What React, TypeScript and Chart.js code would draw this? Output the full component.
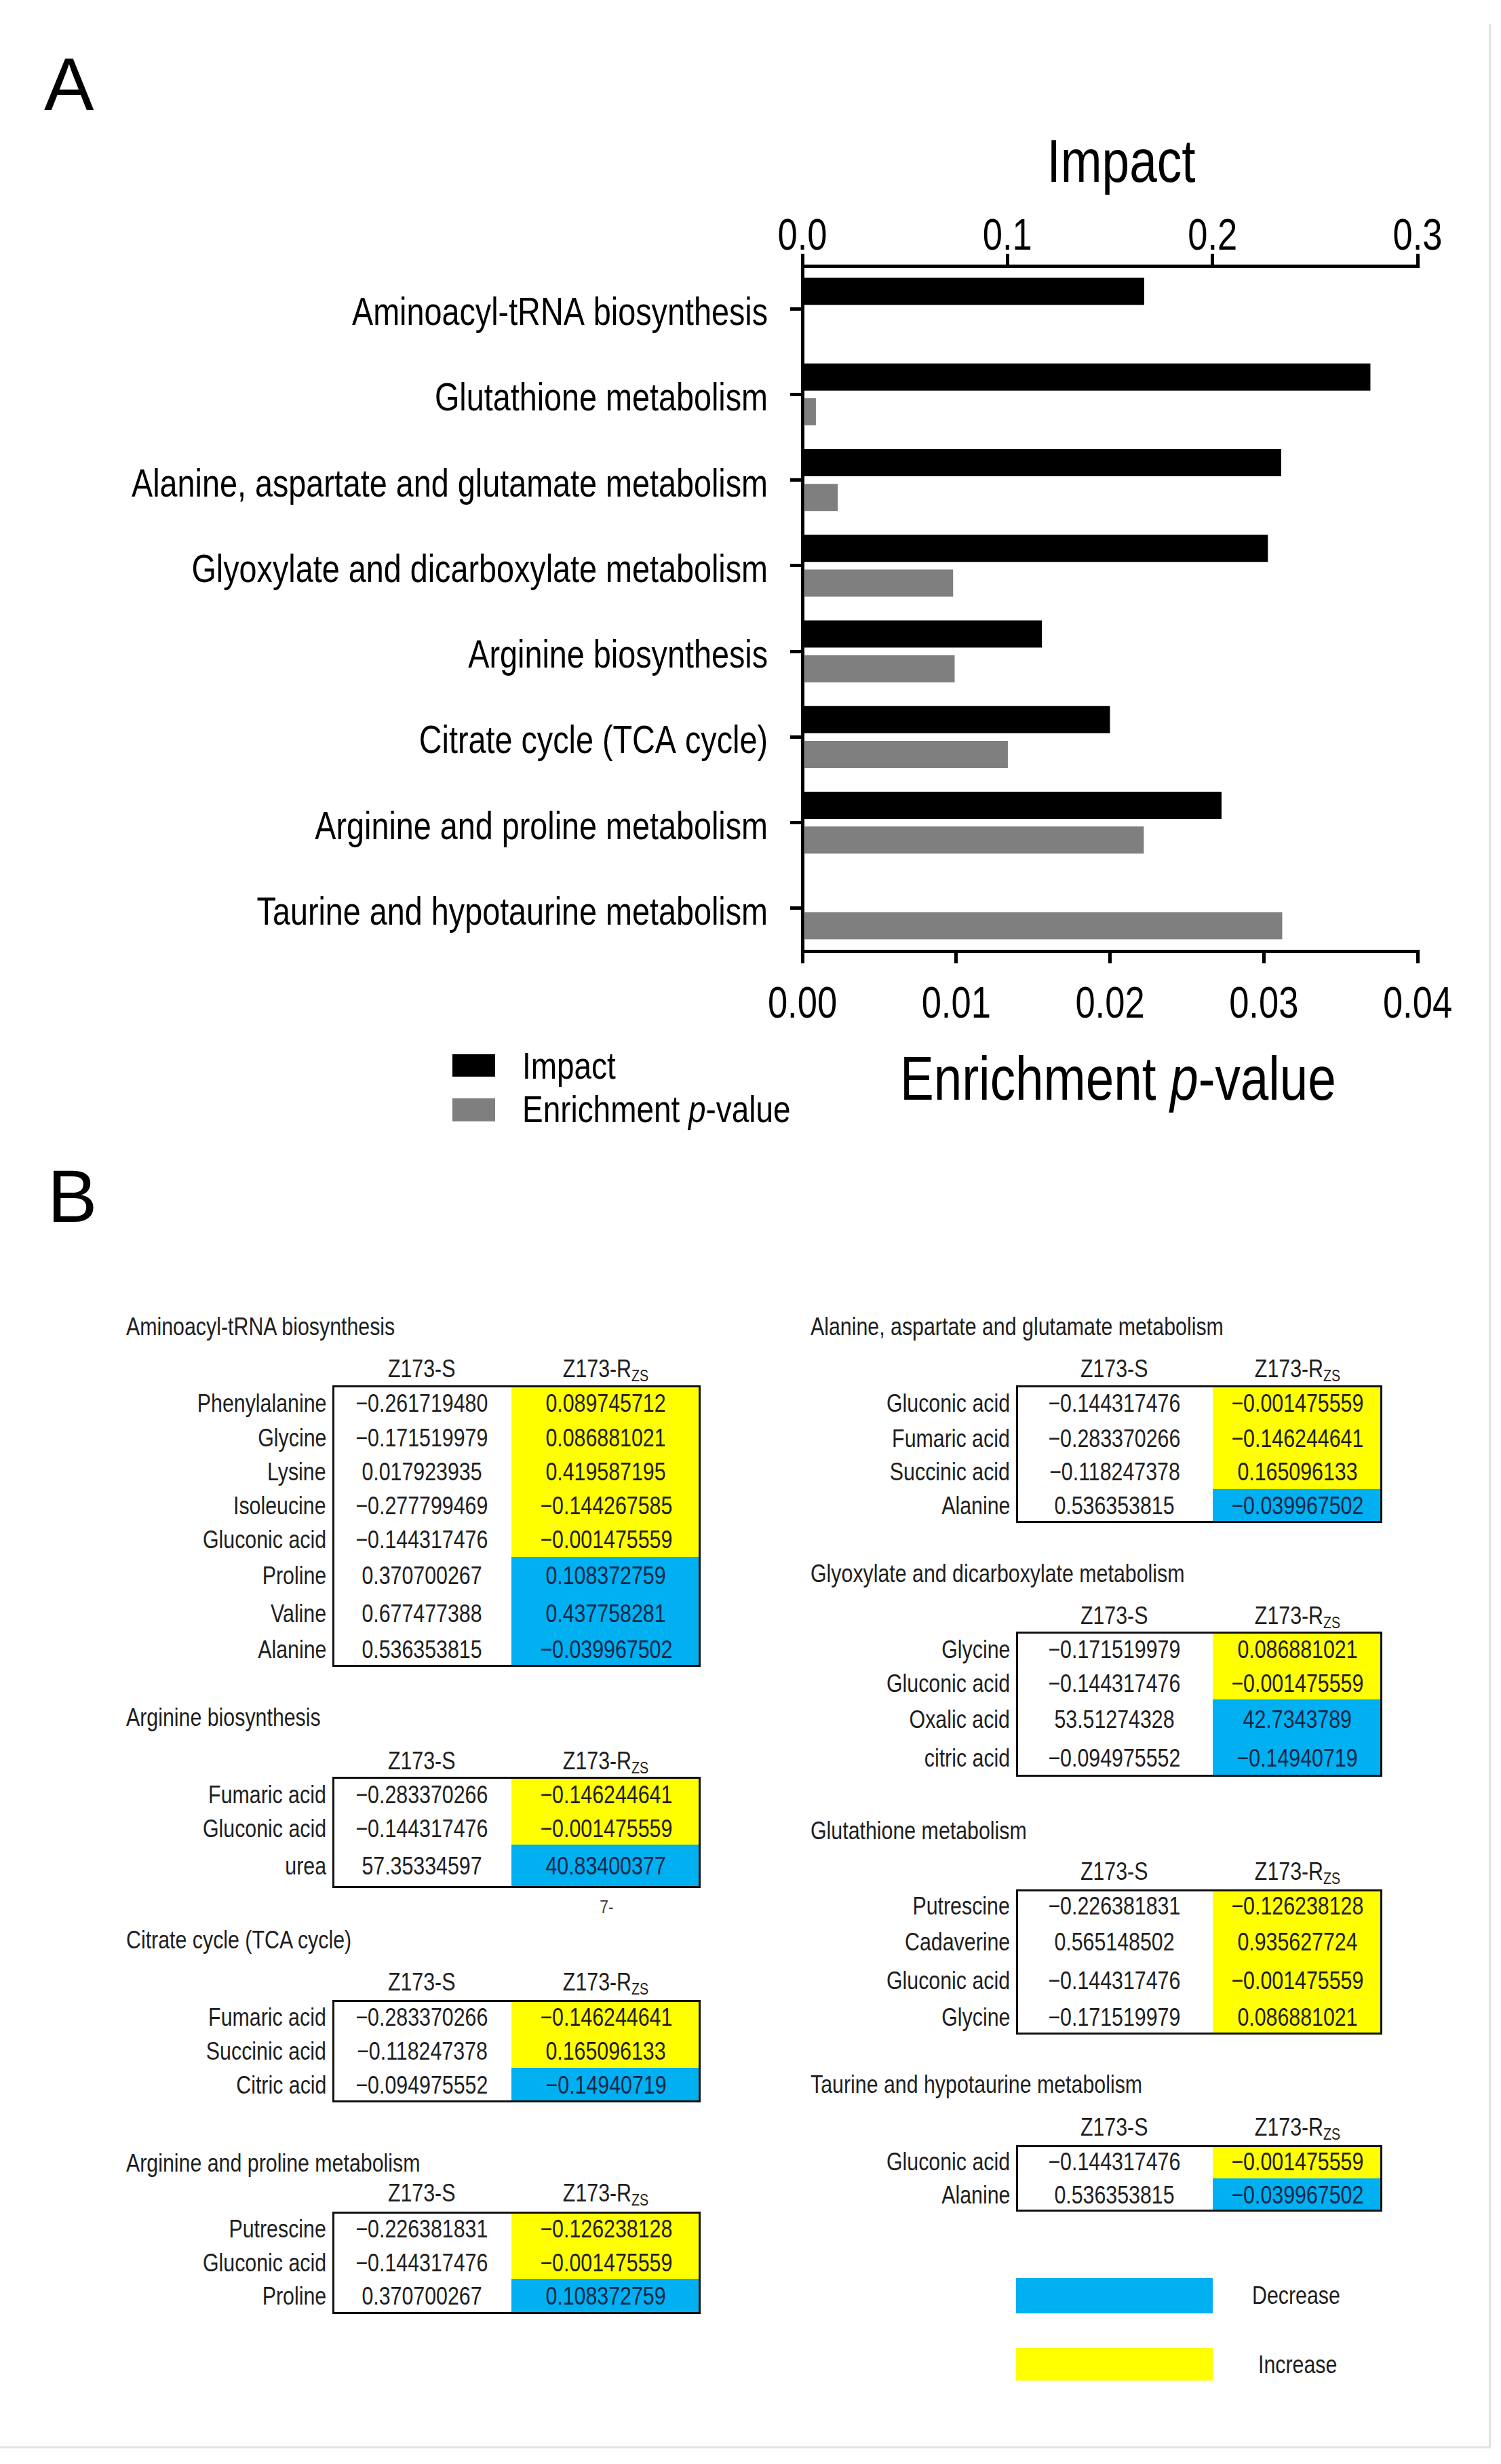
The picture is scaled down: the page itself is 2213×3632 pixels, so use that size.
import React, { useEffect, useRef } from 'react';
import { Chart, registerables } from 'chart.js';

Chart.register(...registerables);

// ---------------- Data: panel A ----------------
const pathways = [
  'Aminoacyl-tRNA biosynthesis',
  'Glutathione metabolism',
  'Alanine, aspartate and glutamate metabolism',
  'Glyoxylate and dicarboxylate metabolism',
  'Arginine biosynthesis',
  'Citrate cycle (TCA cycle)',
  'Arginine and proline metabolism',
  'Taurine and hypotaurine metabolism',
];
const impactValues = [0.1667, 0.277, 0.2335, 0.227, 0.1168, 0.15, 0.2044, 0];
const enrichmentPValues = [0, 0.00088, 0.0023, 0.0098, 0.0099, 0.01336, 0.0222, 0.0312];
const impactTickStep = 0.1;
const impactMax = 0.3;
const pValueTickStep = 0.01;
const pValueMax = 0.04;
const impactTitle = 'Impact';
const pValueTitleParts = ['Enrichment ', 'p', '-value'];
const seriesNames = ['Impact', 'Enrichment p-value'];

// ---------------- Data: panel B ----------------
const sampleColumns = ['Z173-S', 'Z173-R'];
const sampleSubscript = 'ZS';
const trendNames = ['Decrease', 'Increase'];

const aminoacylTitle = 'Aminoacyl-tRNA biosynthesis';
const aminoacylCompounds = ['Phenylalanine', 'Glycine', 'Lysine', 'Isoleucine', 'Gluconic acid', 'Proline', 'Valine', 'Alanine'];
const aminoacylS = ['−0.261719480', '−0.171519979', '0.017923935', '−0.277799469', '−0.144317476', '0.370700267', '0.677477388', '0.536353815'];
const aminoacylR = ['0.089745712', '0.086881021', '0.419587195', '−0.144267585', '−0.001475559', '0.108372759', '0.437758281', '−0.039967502'];
const aminoacylTrend = ['Increase', 'Increase', 'Increase', 'Increase', 'Increase', 'Decrease', 'Decrease', 'Decrease'];

const argBioTitle = 'Arginine biosynthesis';
const argBioCompounds = ['Fumaric acid', 'Gluconic acid', 'urea'];
const argBioS = ['−0.283370266', '−0.144317476', '57.35334597'];
const argBioR = ['−0.146244641', '−0.001475559', '40.83400377'];
const argBioTrend = ['Increase', 'Increase', 'Decrease'];

const tcaTitle = 'Citrate cycle (TCA cycle)';
const tcaCompounds = ['Fumaric acid', 'Succinic acid', 'Citric acid'];
const tcaS = ['−0.283370266', '−0.118247378', '−0.094975552'];
const tcaR = ['−0.146244641', '0.165096133', '−0.14940719'];
const tcaTrend = ['Increase', 'Increase', 'Decrease'];

const argProTitle = 'Arginine and proline metabolism';
const argProCompounds = ['Putrescine', 'Gluconic acid', 'Proline'];
const argProS = ['−0.226381831', '−0.144317476', '0.370700267'];
const argProR = ['−0.126238128', '−0.001475559', '0.108372759'];
const argProTrend = ['Increase', 'Increase', 'Decrease'];

const alaTitle = 'Alanine, aspartate and glutamate metabolism';
const alaCompounds = ['Gluconic acid', 'Fumaric acid', 'Succinic acid', 'Alanine'];
const alaS = ['−0.144317476', '−0.283370266', '−0.118247378', '0.536353815'];
const alaR = ['−0.001475559', '−0.146244641', '0.165096133', '−0.039967502'];
const alaTrend = ['Increase', 'Increase', 'Increase', 'Decrease'];

const glyoxTitle = 'Glyoxylate and dicarboxylate metabolism';
const glyoxCompounds = ['Glycine', 'Gluconic acid', 'Oxalic acid', 'citric acid'];
const glyoxS = ['−0.171519979', '−0.144317476', '53.51274328', '−0.094975552'];
const glyoxR = ['0.086881021', '−0.001475559', '42.7343789', '−0.14940719'];
const glyoxTrend = ['Increase', 'Increase', 'Decrease', 'Decrease'];

const glutTitle = 'Glutathione metabolism';
const glutCompounds = ['Putrescine', 'Cadaverine', 'Gluconic acid', 'Glycine'];
const glutS = ['−0.226381831', '0.565148502', '−0.144317476', '−0.171519979'];
const glutR = ['−0.126238128', '0.935627724', '−0.001475559', '0.086881021'];
const glutTrend = ['Increase', 'Increase', 'Increase', 'Increase'];

const taurTitle = 'Taurine and hypotaurine metabolism';
const taurCompounds = ['Gluconic acid', 'Alanine'];
const taurS = ['−0.144317476', '0.536353815'];
const taurR = ['−0.001475559', '−0.039967502'];
const taurTrend = ['Increase', 'Decrease'];

const pageNote = '7-';

// ---------------- Styling / layout ----------------
const W = 2213;
const H = 3632;
const CANVAS_H = 1700;
const SANS = "'Liberation Sans', Arial, sans-serif";
const CONDENSE = 0.82; // emulate Arial Narrow with a horizontally condensed Arial-metric face
const BLACK = '#000000';
const GREY = '#7f7f7f';
const YELLOW = '#FFFF00';
const BLUE = '#00B0F0';
const trendColor: Record<string, string> = { Increase: YELLOW, Decrease: BLUE };

const LEFT_COL = { labelRight: 481, boxLeft: 490, divider: 754, boxRight: 1033, titleX: 186 };
const RIGHT_COL = { labelRight: 1489, boxLeft: 1498, divider: 1788, boxRight: 2038, titleX: 1195 };

type TableSpec = {
  title: string; compounds: string[]; s: string[]; r: string[]; trend: string[];
  col: typeof LEFT_COL; titleY: number; headerY: number; boxTop: number; rowHeights: number[];
};

const tables: TableSpec[] = [
  { title: aminoacylTitle, compounds: aminoacylCompounds, s: aminoacylS, r: aminoacylR, trend: aminoacylTrend,
    col: LEFT_COL, titleY: 1956, headerY: 2018, boxTop: 2042, rowHeights: [53, 50, 50, 50, 50, 56, 56, 50] },
  { title: argBioTitle, compounds: argBioCompounds, s: argBioS, r: argBioR, trend: argBioTrend,
    col: LEFT_COL, titleY: 2532, headerY: 2596, boxTop: 2619, rowHeights: [53, 47, 64] },
  { title: tcaTitle, compounds: tcaCompounds, s: tcaS, r: tcaR, trend: tcaTrend,
    col: LEFT_COL, titleY: 2860, headerY: 2922, boxTop: 2948, rowHeights: [52, 48, 51] },
  { title: argProTitle, compounds: argProCompounds, s: argProS, r: argProR, trend: argProTrend,
    col: LEFT_COL, titleY: 3189, headerY: 3233, boxTop: 3260, rowHeights: [52, 47, 52] },
  { title: alaTitle, compounds: alaCompounds, s: alaS, r: alaR, trend: alaTrend,
    col: RIGHT_COL, titleY: 1956, headerY: 2018, boxTop: 2042, rowHeights: [54, 49, 50, 50] },
  { title: glyoxTitle, compounds: glyoxCompounds, s: glyoxS, r: glyoxR, trend: glyoxTrend,
    col: RIGHT_COL, titleY: 2320, headerY: 2382, boxTop: 2405, rowHeights: [53, 47, 59, 55] },
  { title: glutTitle, compounds: glutCompounds, s: glutS, r: glutR, trend: glutTrend,
    col: RIGHT_COL, titleY: 2699, headerY: 2759, boxTop: 2785, rowHeights: [50, 56, 58, 50] },
  { title: taurTitle, compounds: taurCompounds, s: taurS, r: taurR, trend: taurTrend,
    col: RIGHT_COL, titleY: 3073, headerY: 3136, boxTop: 3162, rowHeights: [49, 49] },
];

const TEXT_COLOR = '#1e1e1e';
const TABLE_FONT = 37;

function Txt(props: { x: number; y: number; align?: 'left' | 'right' | 'center'; size?: number; color?: string; children: React.ReactNode }) {
  const { x, y, align = 'left', size = TABLE_FONT, color = TEXT_COLOR, children } = props;
  const base: React.CSSProperties = {
    position: 'absolute', top: y - 50, height: 100, lineHeight: '100px', fontSize: size,
    fontFamily: SANS, color, whiteSpace: 'nowrap',
  };
  const origin = align === 'right' ? 'right center' : align === 'center' ? 'center center' : 'left center';
  const inner = <span style={{ display: 'inline-block', transform: `scaleX(${CONDENSE})`, transformOrigin: origin }}>{children}</span>;
  if (align === 'right') return <div style={{ ...base, right: W - x, textAlign: 'right' }}>{inner}</div>;
  if (align === 'center') return <div style={{ ...base, left: x - 400, width: 800, textAlign: 'center' }}>{inner}</div>;
  return <div style={{ ...base, left: x }}>{inner}</div>;
}

function DataTable({ spec }: { spec: TableSpec }) {
  const { col } = spec;
  const c1 = (col.boxLeft + col.divider) / 2;
  const c2 = (col.divider + col.boxRight) / 2;
  const total = spec.rowHeights.reduce((a, b) => a + b, 0);
  let acc = spec.boxTop;
  const rows = spec.compounds.map((name, i) => {
    const top = acc;
    const h = spec.rowHeights[i];
    acc += h;
    const cy = top + h / 2;
    const isBlue = spec.trend[i] === 'Decrease';
    return (
      <React.Fragment key={i}>
        <div style={{ position: 'absolute', left: col.divider, top, width: col.boxRight - col.divider, height: h, background: trendColor[spec.trend[i]] }} />
        <Txt x={col.labelRight} y={cy} align="right">{name}</Txt>
        <Txt x={c1} y={cy} align="center">{spec.s[i]}</Txt>
        <Txt x={c2} y={cy} align="center" color={isBlue ? '#10284a' : TEXT_COLOR}>{spec.r[i]}</Txt>
      </React.Fragment>
    );
  });
  return (
    <>
      <Txt x={col.titleX} y={spec.titleY}>{spec.title}</Txt>
      <Txt x={c1} y={spec.headerY} align="center">{sampleColumns[0]}</Txt>
      <Txt x={c2} y={spec.headerY} align="center">
        {sampleColumns[1]}
        <span style={{ fontSize: 24, position: 'relative', top: 6 }}>{sampleSubscript}</span>
      </Txt>
      {rows}
      <div style={{ position: 'absolute', left: col.boxLeft, top: spec.boxTop, width: col.boxRight - col.boxLeft, height: total, border: '3px solid #111', boxSizing: 'border-box' }} />
    </>
  );
}

function drawCond(ctx: CanvasRenderingContext2D, parts: string[], x: number, y: number, align: 'left' | 'right' | 'center', size: number, italicIndex = -1) {
  ctx.save();
  ctx.translate(x, y);
  ctx.scale(CONDENSE, 1);
  ctx.textBaseline = 'alphabetic';
  ctx.textAlign = 'left';
  const fonts = parts.map((_, i) => `${i === italicIndex ? 'italic ' : ''}${size}px ${SANS}`);
  const widths = parts.map((p, i) => { ctx.font = fonts[i]; return ctx.measureText(p).width; });
  const total = widths.reduce((a, b) => a + b, 0);
  let cx = align === 'left' ? 0 : align === 'right' ? -total : -total / 2;
  parts.forEach((p, i) => {
    ctx.font = fonts[i];
    ctx.fillText(p, cx, 0);
    cx += widths[i];
  });
  ctx.restore();
}

const decorPlugin = {
  id: 'decor',
  afterDraw(chart: any) {
    const ctx = chart.ctx as CanvasRenderingContext2D;
    const { y, xImpact, xP } = chart.scales;
    ctx.save();
    ctx.fillStyle = '#000';
    // Category labels, positioned by the category scale
    y.ticks.forEach((_t: any, i: number) => {
      const py = y.getPixelForTick(i);
      drawCond(ctx, [String(chart.data.labels[i])], 1132, py + 24, 'right', 57);
    });
    // Impact ticks (top axis)
    xImpact.ticks.forEach((t: any, i: number) => {
      drawCond(ctx, [Number(t.value).toFixed(1)], xImpact.getPixelForTick(i), 368, 'center', 64);
    });
    // Enrichment ticks (bottom axis)
    xP.ticks.forEach((t: any, i: number) => {
      drawCond(ctx, [Number(t.value).toFixed(2)], xP.getPixelForTick(i), 1500, 'center', 64);
    });
    // Panel letter
    ctx.font = `110px ${SANS}`;
    ctx.textAlign = 'left';
    ctx.textBaseline = 'alphabetic';
    ctx.fillText('A', 65, 162);
    // Axis titles
    drawCond(ctx, [impactTitle], 1653, 268, 'center', 89);
    drawCond(ctx, pValueTitleParts, 1327, 1621, 'left', 91, 1);
    // Legend
    const ds = chart.data.datasets;
    ctx.fillStyle = ds[0].backgroundColor;
    ctx.fillRect(667, 1554, 63, 33);
    ctx.fillStyle = ds[1].backgroundColor;
    ctx.fillRect(667, 1619, 63, 34);
    ctx.fillStyle = '#000';
    drawCond(ctx, [seriesNames[0]], 770, 1590, 'left', 56);
    const parts = seriesNames[1].split('p-');
    drawCond(ctx, [parts[0], 'p', '-' + parts[1]], 770, 1654, 'left', 56, 1);
    ctx.restore();
  },
};

function ChartA() {
  const ref = useRef<HTMLCanvasElement | null>(null);
  useEffect(() => {
    if (!ref.current) return;
    const tickGrid = { display: true, drawOnChartArea: false, drawTicks: true, tickLength: 18, tickWidth: 5, tickColor: '#000', color: '#000', lineWidth: 5 };
    const border = { display: true, width: 5, color: '#000' };
    const chart = new Chart(ref.current, {
      type: 'bar',
      data: {
        labels: pathways,
        datasets: [
          { label: seriesNames[0], data: impactValues, backgroundColor: BLACK, xAxisID: 'xImpact', yAxisID: 'y' },
          { label: seriesNames[1], data: enrichmentPValues, backgroundColor: GREY, xAxisID: 'xP', yAxisID: 'y' },
        ],
      },
      options: {
        indexAxis: 'y',
        responsive: false,
        maintainAspectRatio: false,
        animation: false,
        devicePixelRatio: 1,
        layout: { padding: { left: 0, right: 123, top: 0, bottom: 0 } },
        datasets: { bar: { barPercentage: 0.78, categoryPercentage: 0.81, borderWidth: 0 } },
        plugins: { legend: { display: false }, tooltip: { enabled: false }, title: { display: false } },
        scales: {
          y: {
            type: 'category', position: 'left', offset: true,
            grid: { ...tickGrid, offset: false },
            border,
            ticks: { display: false, autoSkip: false },
            afterFit: (s: any) => { s.width = 1183; },
          },
          xImpact: {
            type: 'linear', position: 'top', min: 0, max: impactMax,
            grid: tickGrid, border,
            ticks: { display: false, stepSize: impactTickStep },
            afterFit: (s: any) => { s.height = 392; },
          },
          xP: {
            type: 'linear', position: 'bottom', min: 0, max: pValueMax,
            grid: tickGrid, border,
            ticks: { display: false, stepSize: pValueTickStep },
            afterFit: (s: any) => { s.height = CANVAS_H - 1402; },
          },
        },
      } as any,
      plugins: [decorPlugin],
    });
    return () => chart.destroy();
  }, []);
  return <canvas ref={ref} width={W} height={CANVAS_H} style={{ position: 'absolute', left: 0, top: 0, width: W, height: CANVAS_H }} />;
}

export default function App() {
  return (
    <div style={{ position: 'fixed', left: 0, top: 0, width: W, height: H, background: '#fff', overflow: 'hidden', fontFamily: SANS }}>
      <ChartA />
      <div style={{ position: 'absolute', left: 70, top: 1708, fontSize: 110, lineHeight: '110px', fontFamily: SANS, color: '#000' }}>B</div>
      {tables.map((t, i) => <DataTable key={i} spec={t} />)}
      <Txt x={894} y={2811} align="center" size={28} color="#444">{pageNote}</Txt>
      {/* Legend for panel B */}
      <div style={{ position: 'absolute', left: 1498, top: 3358, width: 290, height: 52, background: trendColor[trendNames[0]] }} />
      <Txt x={1846} y={3384}>{trendNames[0]}</Txt>
      <div style={{ position: 'absolute', left: 1498, top: 3461, width: 290, height: 48, background: trendColor[trendNames[1]] }} />
      <Txt x={1855} y={3486}>{trendNames[1]}</Txt>
      {/* faint page frame */}
      <div style={{ position: 'absolute', left: 2195, top: 35, width: 3, height: 3574, background: '#e2e2e2' }} />
      <div style={{ position: 'absolute', left: 0, top: 3606, width: 2198, height: 3, background: '#e2e2e2' }} />
    </div>
  );
}
